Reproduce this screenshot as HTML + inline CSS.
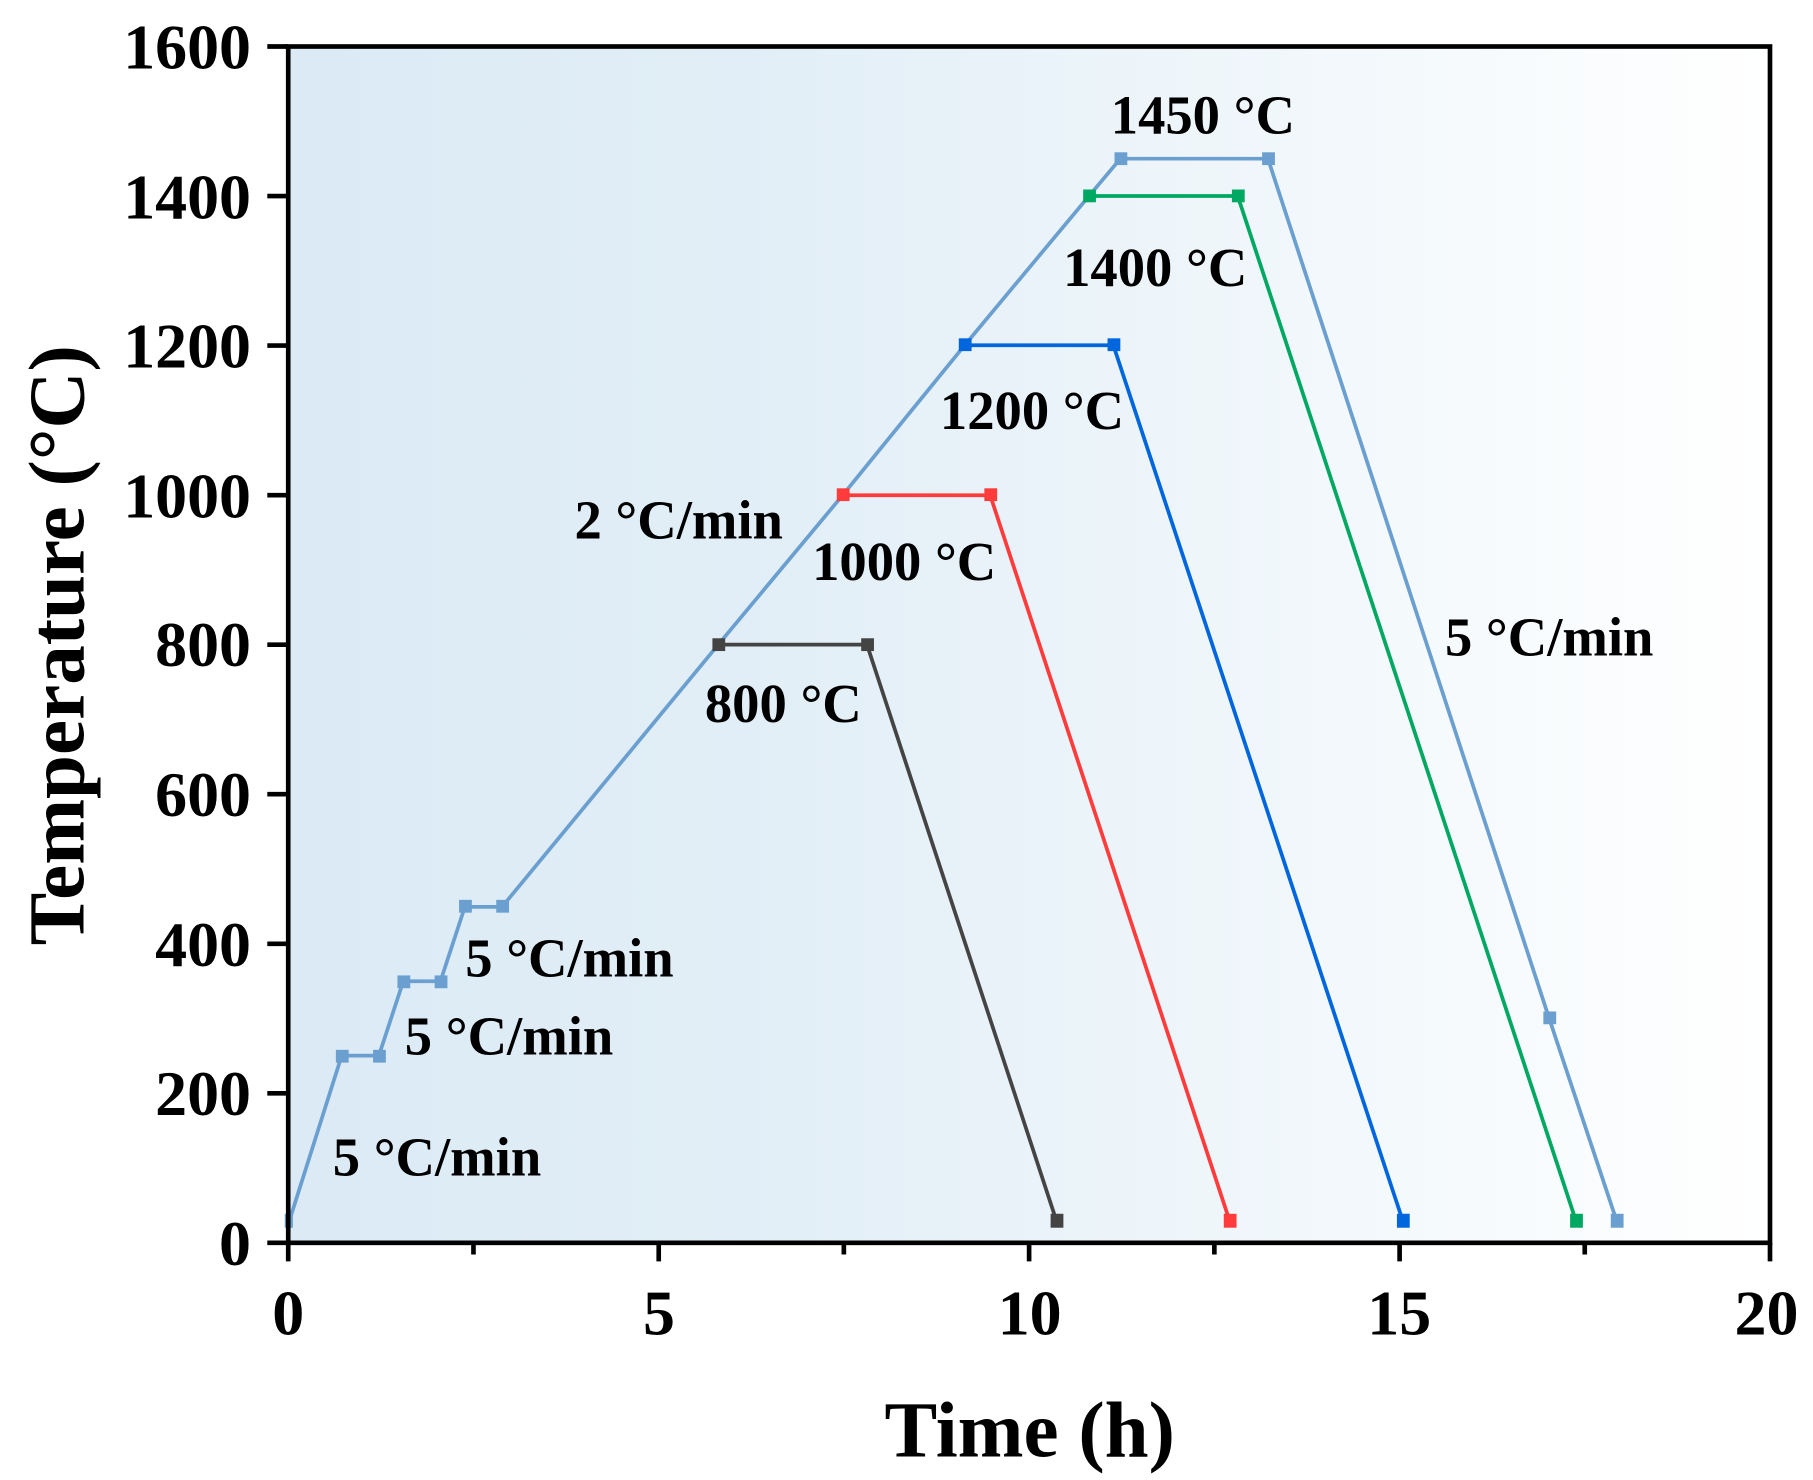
<!DOCTYPE html>
<html><head><style>html,body{margin:0;padding:0;background:#fff}svg{display:block}</style></head>
<body>
<svg width="1813" height="1480" viewBox="0 0 1560 1273" preserveAspectRatio="none" xmlns="http://www.w3.org/2000/svg" font-family="'Liberation Serif',serif" font-weight="bold">
<defs><linearGradient id="bg" x1="0" x2="1" y1="0" y2="0"><stop offset="0" stop-color="#dbeaf5"/><stop offset="0.35" stop-color="#e3eff7"/><stop offset="0.75" stop-color="#f4f9fc"/><stop offset="1" stop-color="#ffffff"/></linearGradient></defs>
<rect x="248" y="40" width="1275" height="1029" fill="url(#bg)"/>
<g fill="none" stroke-width="3.2">
<polyline stroke="#444" points="618,554.5 746,554.5 909,1050"/>
<polyline stroke="#ff3b3b" points="725,426 852,426 1058,1050"/>
<polyline stroke="#0066dd" points="830,297 958,297 1207,1050"/>
<polyline stroke="#00a862" points="937,168.6 1065,168.6 1356,1050"/>
<polyline stroke="#6a9fd0" points="249,1050 294,908 326,908 347,844 379,844 400,780 432,780 618,554.5 725,426 830,297 937,168.6 964,136.5 1091,136.5 1333,876 1391,1050"/>
</g>
<g>
<g fill="#444"><rect x="613" y="549" width="11" height="11"/><rect x="741" y="549" width="11" height="11"/><rect x="904" y="1044" width="11" height="12"/></g>
<g fill="#ff3b3b"><rect x="720" y="420" width="11" height="11"/><rect x="847" y="420" width="11" height="11"/><rect x="1053" y="1044" width="11" height="12"/></g>
<g fill="#0066dd"><rect x="825" y="291" width="11" height="11"/><rect x="953" y="291" width="11" height="11"/><rect x="1202" y="1044" width="11" height="12"/></g>
<g fill="#00a862"><rect x="932" y="163" width="11" height="11"/><rect x="1060" y="163" width="11" height="11"/><rect x="1351" y="1044" width="11" height="12"/></g>
<g fill="#6a9fd0"><rect x="245" y="1044" width="7" height="12"/><rect x="289" y="903" width="11" height="11"/><rect x="321" y="903" width="11" height="11"/><rect x="342" y="839" width="11" height="11"/><rect x="374" y="839" width="11" height="11"/><rect x="395" y="774" width="11" height="11"/><rect x="427" y="774" width="11" height="11"/><rect x="959" y="131" width="11" height="11"/><rect x="1086" y="131" width="11" height="11"/><rect x="1328" y="870" width="11" height="11"/><rect x="1386" y="1044" width="11" height="12"/></g>
</g>
<g stroke="#000" stroke-width="4" fill="none">
<rect x="248" y="40" width="1275" height="1029"/>
<path d="M248,1069v16M407.4,1069v10M566.8,1069v16M726.1,1069v10M885.5,1069v16M1044.9,1069v10M1204.3,1069v16M1363.6,1069v10M1523,1069v16"/>
<path d="M248,40h-18M248,168.6h-18M248,297.2h-18M248,425.9h-18M248,554.5h-18M248,683.1h-18M248,811.8h-18M248,940.4h-18M248,1069h-18"/>
</g>
<g font-size="55" text-anchor="end">
<text x="216" y="59">1600</text><text x="216" y="188">1400</text><text x="216" y="316">1200</text><text x="216" y="445">1000</text><text x="216" y="573">800</text><text x="216" y="702">600</text><text x="216" y="831">400</text><text x="216" y="959">200</text><text x="216" y="1088">0</text>
</g>
<g font-size="55" text-anchor="middle">
<text x="248" y="1148">0</text><text x="567" y="1148">5</text><text x="886" y="1148">10</text><text x="1204" y="1148">15</text><text x="1520" y="1148">20</text>
</g>
<text x="886" y="1253" font-size="68" text-anchor="middle">Time (h)</text>
<text transform="translate(72,555) rotate(-90)" font-size="68" text-anchor="middle">Temperature (°C)</text>
<g font-size="47" text-anchor="middle">
<text x="1035" y="115">1450 °C</text>
<text x="994" y="246">1400 °C</text>
<text x="888" y="369">1200 °C</text>
<text x="778" y="499">1000 °C</text>
<text x="674" y="621">800 °C</text>
<text x="584" y="463">2 °C/min</text>
<text x="1333" y="564">5 °C/min</text>
<text x="490" y="840">5 °C/min</text>
<text x="438" y="907">5 °C/min</text>
<text x="376" y="1011">5 °C/min</text>
</g>
</svg>
</body></html>
